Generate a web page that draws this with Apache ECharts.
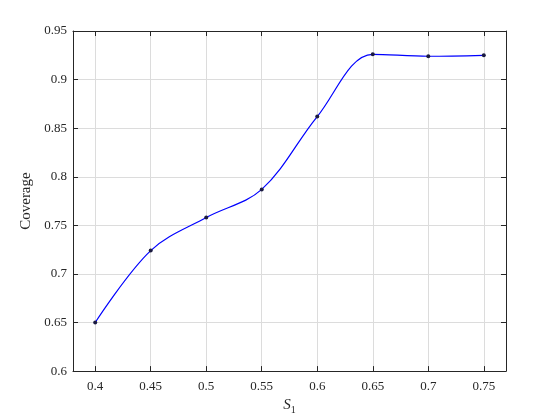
<!DOCTYPE html>
<html>
<head>
<meta charset="utf-8">
<script src="https://cdn.jsdelivr.net/npm/echarts@6/dist/echarts.min.js"></script>
<style>
  html, body { margin: 0; padding: 0; background: #fff; }
  #chart { width: 560px; height: 420px; }
</style>
</head>
<body>
<div id="chart"></div>
<script>
// S1 values and coverage
const s1 = [0.4, 0.45, 0.5, 0.55, 0.6, 0.65, 0.7, 0.75];
const coverage = [0.650, 0.724, 0.758, 0.787, 0.862, 0.926, 0.924, 0.925];

const xRange = [0.38, 0.77];
const yRange = [0.6, 0.95];
const tickStep = 0.05;

const font = "Liberation Serif";
const axisColor = "#262626";
const gridColor = "#dcdcdc";

const points = s1.map((x, i) => [x, coverage[i]]);

const chart = echarts.init(document.getElementById("chart"));

const baseX = {
  type: "value",
  min: xRange[0],
  max: xRange[1],
  minInterval: tickStep,
  maxInterval: tickStep,
  splitNumber: 8,
  axisLine: { show: true, onZero: false, lineStyle: { color: axisColor, width: 1 } },
  axisTick: { show: true, inside: true, length: 5, lineStyle: { color: axisColor } }
};

const baseY = {
  type: "value",
  min: yRange[0],
  max: yRange[1],
  interval: tickStep,
  axisLine: { show: true, onZero: false, lineStyle: { color: axisColor, width: 1 } },
  axisTick: { show: true, inside: true, length: 5, lineStyle: { color: axisColor } }
};

const option = {
  backgroundColor: "#ffffff",
  animation: false,
  grid: { left: 73, top: 31, right: 54, bottom: 47 },
  xAxis: [
    Object.assign({}, baseX, {
      position: "bottom",
      name: "{i|S}{sub|1}",
      nameLocation: "middle",
      nameGap: 19,
      nameTextStyle: {
        rich: {
          i: { fontFamily: font, fontSize: 15, fontStyle: "italic", color: axisColor },
          sub: { fontFamily: font, fontSize: 10, color: axisColor, padding: [9, 0, 0, 0] }
        }
      },
      axisLabel: {
        showMinLabel: false,
        showMaxLabel: false,
        margin: 9,
        fontFamily: font,
        fontSize: 13,
        color: axisColor
      },
      splitLine: { show: true, lineStyle: { color: gridColor, width: 1 } }
    }),
    Object.assign({}, baseX, {
      position: "top",
      axisLabel: { show: false },
      splitLine: { show: false }
    })
  ],
  yAxis: [
    Object.assign({}, baseY, {
      position: "left",
      name: "Coverage",
      nameLocation: "middle",
      nameGap: 37,
      nameTextStyle: { fontFamily: font, fontSize: 15, color: axisColor },
      axisLabel: { margin: 6, fontFamily: font, fontSize: 13, color: axisColor },
      splitLine: { show: true, lineStyle: { color: gridColor, width: 1 } }
    }),
    Object.assign({}, baseY, {
      position: "right",
      axisLabel: { show: false },
      splitLine: { show: false }
    })
  ],
  series: [
    {
      type: "line",
      data: points,
      smooth: 0.35,
      symbol: "circle",
      symbolSize: 4,
      itemStyle: { color: "#1a1a40" },
      lineStyle: { color: "#0000ff", width: 1.2 },
      z: 3
    }
  ]
};

option && chart.setOption(option);
</script>
</body>
</html>
